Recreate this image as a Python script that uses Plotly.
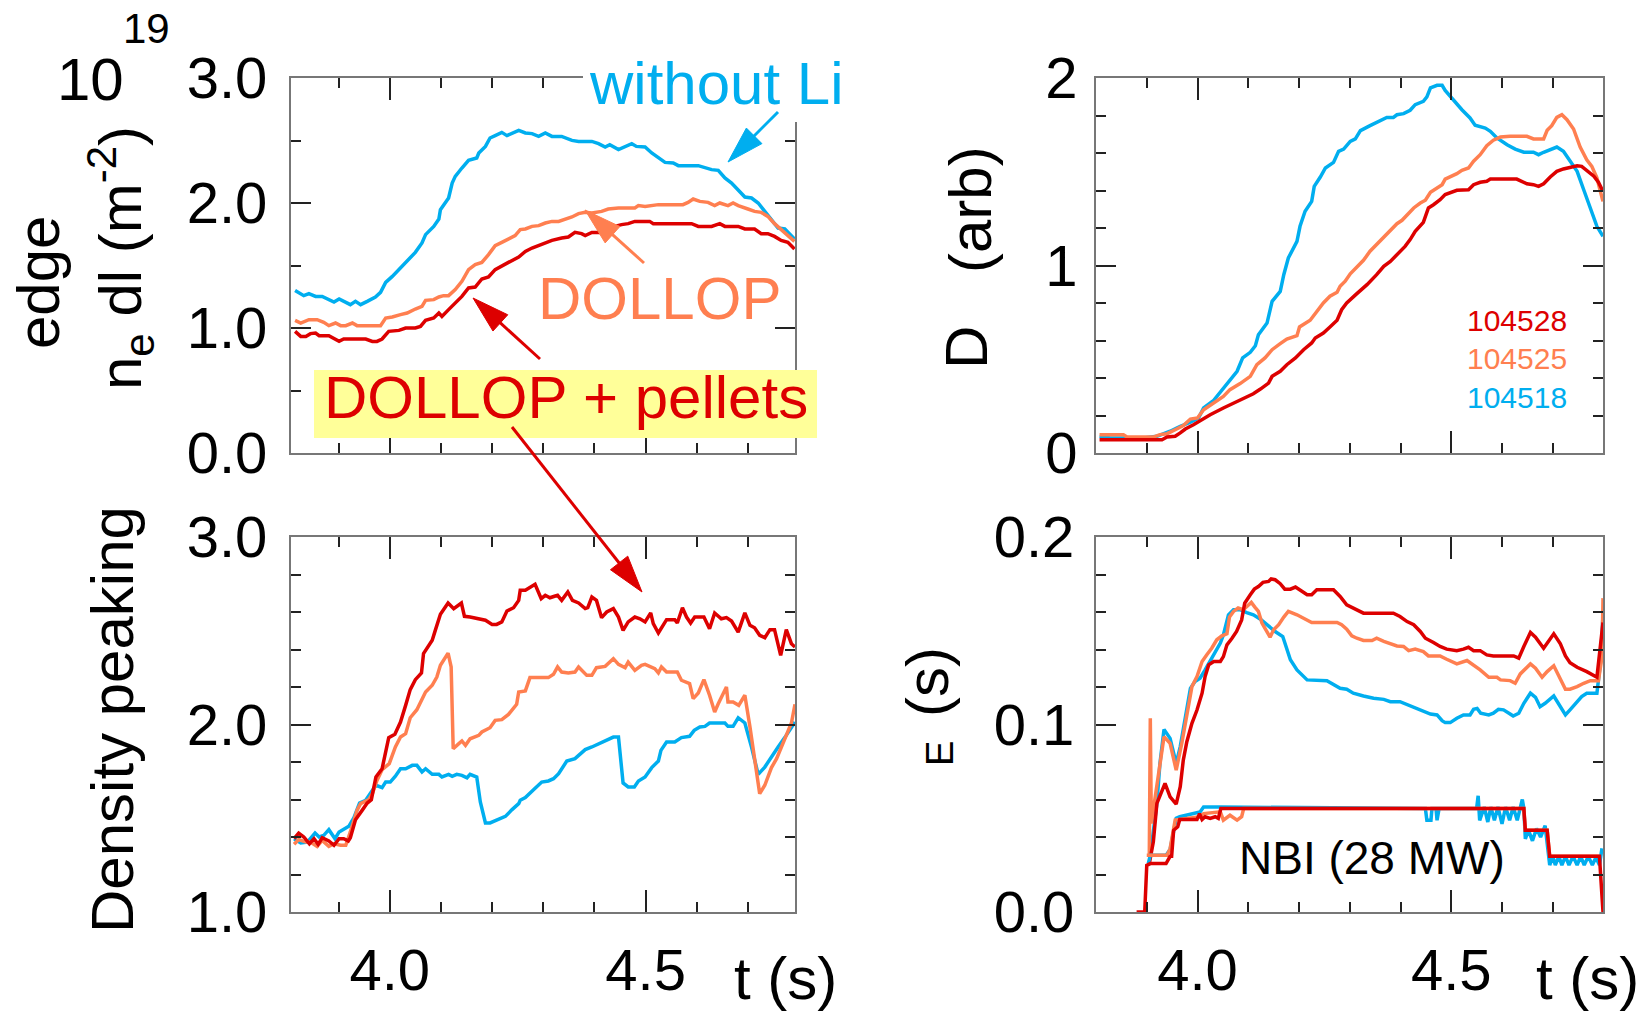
import math
import plotly.graph_objects as go

# ---------------- data ----------------
# Edge line density (10^19 m^-2), top-left panel
TL_T_CYAN = [3.815,3.832,3.842,3.855,3.868,3.881,3.891,3.901,3.910,3.923,3.933,3.943,3.956,3.972,3.982,3.992,4.005,4.018,4.031,4.050,4.063,4.070,4.086,4.096,4.099,4.115,4.122,4.128,4.141,4.154,4.170,4.174,4.187,4.196,4.206,4.219,4.229,4.239,4.252,4.265,4.278,4.291,4.304,4.317,4.336,4.356,4.369,4.395,4.408,4.421,4.430,4.447,4.460,4.473,4.482,4.499,4.512,4.525,4.538,4.554,4.564,4.603,4.616,4.629,4.642,4.655,4.668,4.681,4.694,4.707,4.720,4.733,4.746,4.759,4.772,4.791]
TL_V_CYAN = [1.301,1.259,1.275,1.253,1.253,1.227,1.208,1.232,1.213,1.187,1.213,1.187,1.213,1.248,1.285,1.365,1.413,1.467,1.520,1.605,1.680,1.747,1.813,1.872,1.947,2.040,2.160,2.213,2.280,2.341,2.360,2.400,2.453,2.520,2.539,2.565,2.539,2.560,2.581,2.560,2.555,2.533,2.560,2.533,2.533,2.501,2.493,2.493,2.475,2.448,2.467,2.427,2.448,2.475,2.453,2.448,2.400,2.360,2.325,2.320,2.299,2.299,2.280,2.267,2.261,2.200,2.160,2.107,2.048,2.040,2.000,1.933,1.867,1.800,1.792,1.712]
TL_T_SALMON = [3.815,3.826,3.842,3.858,3.871,3.881,3.894,3.904,3.914,3.927,3.936,3.982,3.992,4.005,4.021,4.034,4.050,4.063,4.070,4.086,4.096,4.105,4.115,4.128,4.141,4.154,4.167,4.180,4.193,4.206,4.219,4.232,4.245,4.255,4.265,4.278,4.291,4.304,4.317,4.330,4.343,4.356,4.369,4.382,4.395,4.414,4.427,4.447,4.479,4.486,4.499,4.512,4.525,4.573,4.583,4.593,4.606,4.622,4.635,4.645,4.661,4.671,4.681,4.700,4.713,4.726,4.739,4.752,4.765,4.778,4.791]
TL_V_SALMON = [1.061,1.040,1.067,1.067,1.045,1.019,1.040,1.019,1.019,1.040,1.019,1.019,1.080,1.088,1.107,1.120,1.152,1.173,1.221,1.227,1.248,1.259,1.259,1.307,1.373,1.467,1.507,1.525,1.587,1.659,1.685,1.712,1.739,1.787,1.792,1.813,1.819,1.840,1.853,1.853,1.872,1.888,1.915,1.925,1.920,1.933,1.952,1.960,1.960,1.979,1.973,1.979,1.987,1.987,2.005,2.032,2.013,2.005,1.979,2.000,1.979,2.000,1.979,1.952,1.933,1.925,1.893,1.835,1.787,1.747,1.693]
TL_T_RED = [3.815,3.826,3.836,3.845,3.855,3.862,3.881,3.901,3.910,3.953,3.966,3.975,3.985,3.998,4.018,4.031,4.050,4.060,4.070,4.086,4.096,4.102,4.115,4.128,4.141,4.154,4.167,4.180,4.193,4.206,4.219,4.232,4.252,4.265,4.278,4.291,4.304,4.317,4.336,4.349,4.362,4.375,4.382,4.395,4.414,4.427,4.440,4.453,4.466,4.479,4.508,4.515,4.590,4.603,4.629,4.645,4.655,4.681,4.694,4.713,4.726,4.739,4.752,4.765,4.778,4.791]
TL_V_RED = [0.973,0.933,0.933,0.955,0.960,0.939,0.939,0.893,0.912,0.912,0.893,0.893,0.912,0.973,0.981,1.000,1.000,1.013,1.061,1.080,1.120,1.093,1.147,1.200,1.253,1.320,1.328,1.392,1.408,1.467,1.499,1.525,1.568,1.613,1.640,1.659,1.675,1.701,1.720,1.728,1.765,1.755,1.739,1.765,1.765,1.792,1.813,1.827,1.835,1.853,1.853,1.835,1.835,1.813,1.813,1.835,1.813,1.813,1.792,1.792,1.755,1.755,1.733,1.701,1.685,1.632]

# D-alpha (arb), top-right panel
TR_T_CYAN = [3.807,3.828,3.854,3.894,3.920,3.946,3.966,3.986,4.002,4.012,4.032,4.051,4.064,4.078,4.089,4.104,4.114,4.120,4.137,4.147,4.163,4.170,4.179,4.196,4.202,4.212,4.225,4.230,4.242,4.252,4.268,4.278,4.288,4.301,4.311,4.321,4.340,4.357,4.373,4.386,4.393,4.406,4.419,4.429,4.445,4.452,4.459,4.472,4.482,4.488,4.498,4.511,4.521,4.537,4.547,4.567,4.577,4.590,4.610,4.626,4.643,4.662,4.672,4.682,4.695,4.708,4.721,4.734,4.748,4.761,4.774,4.787,4.799]
TR_V_CYAN = [0.089,0.080,0.080,0.080,0.089,0.116,0.142,0.164,0.187,0.240,0.281,0.347,0.388,0.436,0.507,0.537,0.572,0.631,0.693,0.809,0.862,0.951,1.040,1.129,1.209,1.289,1.342,1.422,1.472,1.520,1.550,1.609,1.621,1.662,1.675,1.719,1.746,1.769,1.790,1.790,1.804,1.810,1.828,1.858,1.876,1.899,1.947,1.961,1.961,1.934,1.902,1.867,1.831,1.787,1.748,1.733,1.716,1.680,1.644,1.621,1.604,1.604,1.591,1.604,1.618,1.632,1.609,1.561,1.502,1.404,1.307,1.209,1.156]
TR_T_SALMON = [3.807,3.854,3.861,3.913,3.926,3.940,3.959,3.972,3.986,4.000,4.012,4.032,4.051,4.064,4.084,4.104,4.117,4.133,4.147,4.163,4.176,4.196,4.201,4.222,4.235,4.248,4.261,4.275,4.281,4.291,4.301,4.314,4.327,4.340,4.353,4.367,4.380,4.393,4.403,4.413,4.426,4.439,4.449,4.459,4.472,4.482,4.488,4.498,4.511,4.521,4.534,4.544,4.557,4.570,4.583,4.597,4.616,4.649,4.662,4.682,4.689,4.698,4.708,4.718,4.728,4.741,4.754,4.767,4.777,4.787,4.799]
TR_V_SALMON = [0.098,0.098,0.085,0.085,0.098,0.103,0.128,0.146,0.181,0.187,0.231,0.267,0.302,0.338,0.370,0.409,0.471,0.507,0.551,0.583,0.608,0.626,0.672,0.708,0.756,0.800,0.836,0.857,0.889,0.916,0.956,0.992,1.028,1.076,1.111,1.147,1.182,1.223,1.241,1.271,1.307,1.333,1.348,1.390,1.413,1.431,1.461,1.472,1.490,1.508,1.520,1.556,1.591,1.639,1.668,1.685,1.689,1.689,1.675,1.675,1.721,1.746,1.790,1.804,1.778,1.728,1.632,1.564,1.529,1.467,1.342]
TR_T_RED = [3.807,3.854,3.930,3.940,3.956,3.966,3.976,3.992,4.005,4.025,4.051,4.071,4.091,4.110,4.124,4.140,4.147,4.163,4.176,4.193,4.209,4.225,4.232,4.248,4.261,4.275,4.284,4.294,4.314,4.334,4.353,4.367,4.380,4.393,4.409,4.419,4.429,4.445,4.455,4.465,4.478,4.488,4.498,4.511,4.534,4.544,4.557,4.570,4.577,4.629,4.649,4.662,4.672,4.682,4.695,4.708,4.721,4.734,4.748,4.757,4.767,4.781,4.790,4.799]
TR_V_RED = [0.071,0.071,0.071,0.085,0.089,0.107,0.128,0.151,0.174,0.204,0.240,0.267,0.293,0.316,0.341,0.373,0.409,0.436,0.471,0.507,0.551,0.587,0.613,0.640,0.672,0.708,0.764,0.800,0.850,0.898,0.951,0.996,1.022,1.058,1.102,1.138,1.182,1.230,1.307,1.324,1.351,1.378,1.387,1.401,1.404,1.431,1.444,1.449,1.461,1.461,1.436,1.431,1.422,1.436,1.472,1.502,1.515,1.525,1.532,1.529,1.508,1.476,1.444,1.396]

# Density peaking, bottom-left panel
BL_T_CYAN = [3.813,3.826,3.839,3.854,3.862,3.871,3.881,3.893,3.901,3.920,3.930,3.941,3.953,3.962,3.973,3.985,3.992,4.001,4.011,4.021,4.031,4.044,4.053,4.063,4.070,4.083,4.096,4.102,4.115,4.122,4.131,4.141,4.151,4.157,4.170,4.177,4.187,4.196,4.226,4.239,4.252,4.255,4.265,4.281,4.297,4.310,4.320,4.330,4.346,4.362,4.382,4.395,4.421,4.437,4.447,4.456,4.466,4.478,4.486,4.499,4.512,4.525,4.530,4.541,4.557,4.570,4.586,4.595,4.606,4.616,4.625,4.655,4.661,4.671,4.681,4.694,4.707,4.720,4.733,4.746,4.759,4.772,4.785,4.792]
BL_V_CYAN = [1.391,1.368,1.373,1.421,1.400,1.409,1.439,1.391,1.427,1.457,1.503,1.581,1.596,1.635,1.676,1.663,1.693,1.693,1.724,1.764,1.764,1.782,1.782,1.747,1.764,1.734,1.734,1.720,1.734,1.724,1.734,1.729,1.716,1.734,1.720,1.587,1.475,1.475,1.510,1.546,1.578,1.596,1.610,1.652,1.693,1.699,1.711,1.738,1.805,1.818,1.866,1.880,1.912,1.933,1.933,1.688,1.667,1.667,1.699,1.720,1.770,1.805,1.862,1.907,1.907,1.930,1.937,1.969,1.987,1.990,2.008,2.008,1.990,1.990,2.036,2.008,1.880,1.734,1.773,1.830,1.880,1.930,1.987,2.013]
BL_T_SALMON = [3.813,3.822,3.836,3.845,3.858,3.868,3.881,3.891,3.904,3.914,3.923,3.936,3.943,3.959,3.966,3.975,3.985,3.999,4.011,4.021,4.031,4.040,4.053,4.062,4.070,4.083,4.092,4.099,4.114,4.120,4.124,4.135,4.141,4.148,4.157,4.174,4.180,4.196,4.206,4.219,4.232,4.248,4.252,4.265,4.274,4.310,4.320,4.328,4.336,4.349,4.362,4.369,4.385,4.395,4.404,4.421,4.437,4.447,4.460,4.466,4.479,4.492,4.499,4.518,4.525,4.531,4.541,4.562,4.570,4.586,4.593,4.603,4.614,4.625,4.635,4.642,4.658,4.661,4.671,4.682,4.694,4.704,4.723,4.733,4.746,4.756,4.765,4.775,4.785,4.792]
BL_V_SALMON = [1.361,1.386,1.373,1.373,1.350,1.382,1.350,1.364,1.356,1.356,1.427,1.542,1.578,1.599,1.631,1.702,1.759,1.791,1.880,1.933,1.951,2.036,2.079,2.129,2.173,2.209,2.253,2.316,2.381,2.307,1.871,1.898,1.912,1.889,1.924,1.942,1.960,1.983,2.022,2.026,2.054,2.108,2.173,2.179,2.250,2.250,2.268,2.307,2.280,2.275,2.280,2.307,2.262,2.262,2.303,2.310,2.351,2.321,2.303,2.333,2.289,2.316,2.321,2.298,2.275,2.307,2.280,2.280,2.236,2.218,2.138,2.168,2.239,2.156,2.067,2.111,2.200,2.120,2.120,2.102,2.156,1.987,1.631,1.676,1.770,1.818,1.876,1.948,2.008,2.108]
BL_T_RED = [3.813,3.822,3.832,3.843,3.852,3.860,3.868,3.881,3.891,3.901,3.910,3.919,3.923,3.933,3.946,3.956,3.964,3.973,3.985,3.998,4.010,4.021,4.031,4.040,4.050,4.062,4.066,4.083,4.089,4.099,4.114,4.125,4.140,4.146,4.157,4.170,4.187,4.200,4.209,4.219,4.229,4.242,4.252,4.255,4.265,4.284,4.296,4.304,4.313,4.322,4.328,4.336,4.348,4.357,4.369,4.382,4.387,4.395,4.404,4.414,4.424,4.437,4.447,4.456,4.466,4.479,4.489,4.499,4.510,4.515,4.525,4.541,4.557,4.562,4.572,4.580,4.588,4.596,4.614,4.625,4.635,4.648,4.658,4.668,4.681,4.694,4.704,4.713,4.723,4.733,4.743,4.752,4.764,4.775,4.785,4.792]
BL_V_RED = [1.391,1.421,1.400,1.364,1.391,1.361,1.396,1.379,1.356,1.391,1.391,1.379,1.396,1.492,1.542,1.581,1.599,1.720,1.764,1.930,1.948,2.013,2.102,2.186,2.239,2.275,2.378,2.449,2.502,2.588,2.648,2.618,2.648,2.577,2.573,2.564,2.556,2.534,2.534,2.547,2.605,2.623,2.662,2.716,2.716,2.748,2.671,2.689,2.676,2.684,2.689,2.662,2.707,2.662,2.648,2.618,2.623,2.680,2.662,2.570,2.600,2.618,2.573,2.502,2.547,2.573,2.564,2.547,2.595,2.538,2.488,2.559,2.559,2.541,2.623,2.573,2.541,2.573,2.573,2.511,2.595,2.564,2.570,2.552,2.493,2.595,2.529,2.516,2.476,2.463,2.506,2.506,2.369,2.506,2.431,2.413]

# Energy confinement time (s), bottom-right panel
BR_T_CYAN = [3.907,3.913,3.920,3.926,3.934,3.946,3.958,3.966,3.976,3.986,3.995,4.005,4.015,4.025,4.035,4.045,4.051,4.061,4.071,4.084,4.097,4.110,4.124,4.140,4.153,4.168,4.176,4.183,4.196,4.216,4.255,4.268,4.281,4.294,4.307,4.327,4.347,4.367,4.380,4.399,4.419,4.439,4.459,4.472,4.482,4.488,4.498,4.511,4.524,4.537,4.544,4.551,4.558,4.574,4.583,4.593,4.603,4.616,4.622,4.633,4.643,4.656,4.666,4.675,4.685,4.702,4.712,4.725,4.734,4.748,4.757,4.767,4.787,4.794,4.799]
BR_V_CYAN = [0.0303,0.0436,0.0579,0.0793,0.0974,0.0926,0.0793,0.0882,0.1042,0.1193,0.1229,0.1247,0.1291,0.1336,0.1380,0.1434,0.1478,0.1585,0.1612,0.1612,0.1597,0.1585,0.1562,0.1523,0.1496,0.1469,0.1398,0.1345,0.1291,0.1238,0.1234,0.1216,0.1193,0.1188,0.1167,0.1152,0.1140,0.1134,0.1122,0.1122,0.1099,0.1078,0.1056,0.1051,0.1020,0.1010,0.1010,0.1033,0.1051,0.1051,0.1081,0.1086,0.1060,0.1051,0.1060,0.1081,0.1078,0.1056,0.1045,0.1060,0.1113,0.1167,0.1145,0.1095,0.1113,0.1152,0.1110,0.1051,0.1078,0.1122,0.1149,0.1167,0.1167,0.1327,0.1585]
BR_T_SALMON = [3.905,3.907,3.909,3.917,3.926,3.934,3.946,3.958,3.969,3.979,3.989,3.999,4.009,4.018,4.028,4.038,4.048,4.058,4.063,4.071,4.080,4.090,4.100,4.106,4.113,4.120,4.127,4.137,4.143,4.150,4.160,4.170,4.179,4.196,4.212,4.225,4.275,4.284,4.294,4.304,4.314,4.327,4.344,4.353,4.367,4.380,4.393,4.406,4.416,4.429,4.445,4.455,4.478,4.491,4.511,4.531,4.544,4.557,4.574,4.590,4.597,4.616,4.626,4.636,4.656,4.666,4.679,4.689,4.702,4.712,4.725,4.734,4.748,4.761,4.774,4.790,4.797,4.799]
BR_V_SALMON = [0.0294,0.1033,0.0472,0.0614,0.0793,0.0935,0.0899,0.0757,0.0899,0.1051,0.1202,0.1256,0.1336,0.1371,0.1407,0.1452,0.1473,0.1484,0.1573,0.1603,0.1621,0.1612,0.1633,0.1651,0.1626,0.1603,0.1541,0.1496,0.1466,0.1505,0.1532,0.1573,0.1603,0.1585,0.1562,0.1544,0.1544,0.1532,0.1508,0.1473,0.1460,0.1448,0.1448,0.1460,0.1443,0.1430,0.1419,0.1416,0.1394,0.1402,0.1389,0.1366,0.1366,0.1348,0.1323,0.1341,0.1318,0.1291,0.1252,0.1252,0.1238,0.1234,0.1220,0.1270,0.1323,0.1300,0.1252,0.1282,0.1313,0.1259,0.1188,0.1188,0.1202,0.1220,0.1234,0.1234,0.1362,0.1674]
BR_T_RED = [3.905,3.913,3.920,3.928,3.936,3.946,3.958,3.966,3.972,3.979,3.989,3.999,4.009,4.015,4.022,4.032,4.045,4.051,4.058,4.068,4.077,4.087,4.093,4.104,4.112,4.120,4.129,4.140,4.145,4.153,4.163,4.172,4.183,4.193,4.202,4.216,4.225,4.235,4.268,4.281,4.294,4.307,4.327,4.386,4.399,4.413,4.426,4.439,4.449,4.465,4.478,4.491,4.511,4.524,4.534,4.544,4.557,4.570,4.583,4.623,4.633,4.643,4.656,4.666,4.682,4.702,4.715,4.725,4.734,4.748,4.767,4.787,4.792,4.799]
BR_V_RED = [0.0258,0.0374,0.0579,0.0632,0.0686,0.0614,0.0575,0.0668,0.0810,0.0908,0.1006,0.1077,0.1167,0.1256,0.1318,0.1336,0.1336,0.1362,0.1425,0.1460,0.1496,0.1558,0.1647,0.1692,0.1722,0.1736,0.1758,0.1763,0.1776,0.1772,0.1751,0.1722,0.1722,0.1733,0.1719,0.1692,0.1692,0.1719,0.1719,0.1683,0.1638,0.1621,0.1594,0.1594,0.1576,0.1549,0.1532,0.1496,0.1460,0.1437,0.1416,0.1402,0.1394,0.1402,0.1412,0.1394,0.1394,0.1371,0.1366,0.1366,0.1354,0.1416,0.1491,0.1466,0.1407,0.1484,0.1430,0.1366,0.1330,0.1305,0.1282,0.1252,0.1362,0.1544]

# NBI power waveform (scaled into the tau_E axis)
NBI_T_CYAN = [3.903,3.907,3.938,3.946,3.958,3.965,4.005,4.012,4.046,4.449,4.452,4.460,4.462,4.470,4.472,4.476,4.550,4.553,4.556,4.565,4.572,4.578,4.585,4.592,4.600,4.607,4.615,4.622,4.630,4.640,4.643,4.646,4.652,4.660,4.668,4.676,4.685,4.689,4.694,4.700,4.705,4.712,4.718,4.725,4.732,4.740,4.748,4.755,4.762,4.770,4.778,4.785,4.792,4.797]
NBI_V_CYAN = [0.0258,0.0303,0.0303,0.0333,0.0500,0.0508,0.0533,0.0560,0.0560,0.0552,0.0489,0.0489,0.0552,0.0552,0.0489,0.0552,0.0552,0.0620,0.0489,0.0560,0.0480,0.0560,0.0489,0.0560,0.0470,0.0560,0.0489,0.0560,0.0489,0.0600,0.0552,0.0390,0.0436,0.0380,0.0445,0.0400,0.0460,0.0380,0.0250,0.0297,0.0250,0.0297,0.0250,0.0297,0.0250,0.0297,0.0250,0.0297,0.0250,0.0297,0.0250,0.0290,0.0250,0.0340]
NBI_T_SALMON = [3.900,3.940,3.946,3.956,4.005,4.012,4.045,4.051,4.064,4.078,4.087,4.091,4.643,4.646,4.689,4.694,4.792]
NBI_V_SALMON = [0.0303,0.0303,0.0338,0.0490,0.0508,0.0525,0.0534,0.0490,0.0516,0.0490,0.0508,0.0552,0.0552,0.0436,0.0436,0.0297,0.0297]
NBI_T_RED = [3.880,3.896,3.900,3.907,3.938,3.946,3.949,3.953,3.961,3.965,3.999,4.004,4.009,4.015,4.025,4.035,4.041,4.046,4.643,4.646,4.689,4.694,4.792,4.799]
NBI_V_RED = [0,0,0.0249,0.0258,0.0258,0.0297,0.0297,0.0436,0.0454,0.0493,0.0493,0.0525,0.0493,0.0508,0.0499,0.0508,0.0499,0.0552,0.0552,0.0436,0.0436,0.0297,0.0297,0]

SHOTS = ["104528", "104525", "104518"]

# ---------------- style ----------------
W, H = 1652, 1011
CYAN = '#00AEEF'
SALMON = '#FF7F50'
RED = '#DD0000'
YELLOW = '#FFFF99'
FONT = 'Liberation Sans, Arial, Helvetica, sans-serif'
LW = 3.5


def px(x):
    return x / W


def py(y):
    return 1 - y / H


fig = go.Figure()


def add(x, y, color, xa, ya, width=LW):
    fig.add_trace(go.Scatter(x=x, y=y, mode='lines', line=dict(color=color, width=width),
                             xaxis=xa, yaxis=ya, showlegend=False, hoverinfo='skip'))


add(TL_T_CYAN, TL_V_CYAN, CYAN, 'x', 'y')
add(TL_T_SALMON, TL_V_SALMON, SALMON, 'x', 'y')
add(TL_T_RED, TL_V_RED, RED, 'x', 'y')

add(TR_T_CYAN, TR_V_CYAN, CYAN, 'x2', 'y2')
add(TR_T_SALMON, TR_V_SALMON, SALMON, 'x2', 'y2')
add(TR_T_RED, TR_V_RED, RED, 'x2', 'y2')

add(BL_T_CYAN, BL_V_CYAN, CYAN, 'x3', 'y3')
add(BL_T_SALMON, BL_V_SALMON, SALMON, 'x3', 'y3')
add(BL_T_RED, BL_V_RED, RED, 'x3', 'y3')

add(BR_T_CYAN, BR_V_CYAN, CYAN, 'x4', 'y4')
add(BR_T_SALMON, BR_V_SALMON, SALMON, 'x4', 'y4')
add(BR_T_RED, BR_V_RED, RED, 'x4', 'y4')
add(NBI_T_CYAN, NBI_V_CYAN, CYAN, 'x4', 'y4')
add(NBI_T_SALMON, NBI_V_SALMON, SALMON, 'x4', 'y4')
add(NBI_T_RED, NBI_V_RED, RED, 'x4', 'y4')


def axis(rng, dtick, minor_dtick, tick0, fmt, labels, standoff, domain, anchor, major_len):
    return dict(range=rng, domain=domain, anchor=anchor, tickmode='linear', tick0=tick0, dtick=dtick,
                tickformat=fmt, showticklabels=labels, ticks='inside', ticklen=major_len,
                tickwidth=1.5, tickcolor='#222', showline=True, linecolor='#777', linewidth=2,
                mirror='ticks', showgrid=False, zeroline=False, automargin=False,
                minor=dict(dtick=minor_dtick, tick0=tick0, ticks='inside', ticklen=10,
                           tickwidth=1.5, tickcolor='#222', showgrid=False),
                tickfont=dict(family=FONT, size=58, color='black'), ticklabelstandoff=standoff)


XL = [px(291), px(795)]
XR = [px(1096), px(1603)]
YT = [py(453), py(78)]
YB = [py(912), py(537)]
XRANGE_L = [3.807, 4.792]
XRANGE_R = [3.800, 4.799]

fig.update_layout(
    width=W, height=H, autosize=False, margin=dict(l=0, r=0, t=0, b=0, pad=0),
    paper_bgcolor='white', plot_bgcolor='white', showlegend=False,
    xaxis=axis(XRANGE_L, 0.5, 0.1, 4.0, '.1f', False, 6, XL, 'y', 22),
    yaxis=axis([0, 3], 1, 0.5, 0, '.1f', True, 10, YT, 'x', 20),
    xaxis2=axis(XRANGE_R, 0.5, 0.1, 4.0, '.1f', False, 6, XR, 'y2', 22),
    yaxis2=axis([0, 2], 1, 0.2, 0, 'd', True, 5, YT, 'x2', 20),
    xaxis3=axis(XRANGE_L, 0.5, 0.1, 4.0, '.1f', True, 6, XL, 'y3', 22),
    yaxis3=axis([1, 3], 1, 0.2, 1, '.1f', True, 10, YB, 'x3', 20),
    xaxis4=axis(XRANGE_R, 0.5, 0.1, 4.0, '.1f', True, 6, XR, 'y4', 22),
    yaxis4=axis([0, 0.2], 0.1, 0.02, 0, '.1f', True, 8, YB, 'x4', 20),
)


def ann(text, x, y, size, color='black', angle=0):
    fig.add_annotation(text=text, x=px(x), y=py(y), xref='paper', yref='paper', showarrow=False,
                       font=dict(family=FONT, size=size, color=color), textangle=angle,
                       xanchor='center', yanchor='middle')


def rect(x0, y0, x1, y1, color):
    fig.add_shape(type='rect', x0=px(x0), y0=py(y0), x1=px(x1), y1=py(y1), xref='paper', yref='paper',
                  fillcolor=color, line=dict(width=0), layer='above')


def arrow(x0, y0, x1, y1, color, head_len=37, half_w=11, width=3):
    dx, dy = x1 - x0, y1 - y0
    d = math.hypot(dx, dy)
    ux, uy = dx / d, dy / d
    bx, by = x1 - head_len * ux, y1 - head_len * uy
    nx, ny = -uy, ux
    fig.add_shape(type='line', x0=px(x0), y0=py(y0), x1=px(bx + 3 * ux), y1=py(by + 3 * uy),
                  xref='paper', yref='paper', line=dict(color=color, width=width), layer='above')
    path = (f"M {px(x1)},{py(y1)} L {px(bx + half_w * nx)},{py(by + half_w * ny)} "
            f"L {px(bx - half_w * nx)},{py(by - half_w * ny)} Z")
    fig.add_shape(type='path', path=path, xref='paper', yref='paper', fillcolor=color,
                  line=dict(color=color, width=1), layer='above')


# white patch behind "without Li" (breaks the frame corner) and yellow label box
rect(583, 40, 850, 122, 'white')
rect(314, 370, 817, 438, YELLOW)

# arrows
arrow(778, 112, 728, 162, CYAN)
arrow(644, 263, 585, 210, SALMON)
arrow(540, 359, 473, 298, RED)
arrow(512, 427, 642, 592, RED)

# axis titles
ann('10', 90, 79, 60)
ann('19', 146, 28, 42)
ann('edge', 38, 283, 60, angle=-90)
ann('n<sub>e</sub> dl (m<sup>-2</sup>)', 121, 258, 60, angle=-90)
ann('Density peaking', 112, 720, 60, angle=-90)
ann('(arb)', 970, 210, 60, angle=-90)
ann('D', 966, 348, 60, angle=-90)
ann('(s)', 927, 682, 60, angle=-90)
ann('E', 940, 754, 38, angle=-90)
ann('t (s)', 785, 978, 60)
ann('t (s)', 1587, 978, 60)

# in-plot labels
ann('without Li', 716, 84, 60, CYAN)
ann('DOLLOP', 659, 298, 60, SALMON)
ann('DOLLOP + pellets', 566, 397, 60, RED)
ann(SHOTS[0], 1517, 321, 30, RED)
ann(SHOTS[1], 1517, 358, 30, SALMON)
ann(SHOTS[2], 1517, 397, 30, CYAN)
ann('NBI (28 MW)', 1372, 858, 46)

fig.write_html("out.html")
